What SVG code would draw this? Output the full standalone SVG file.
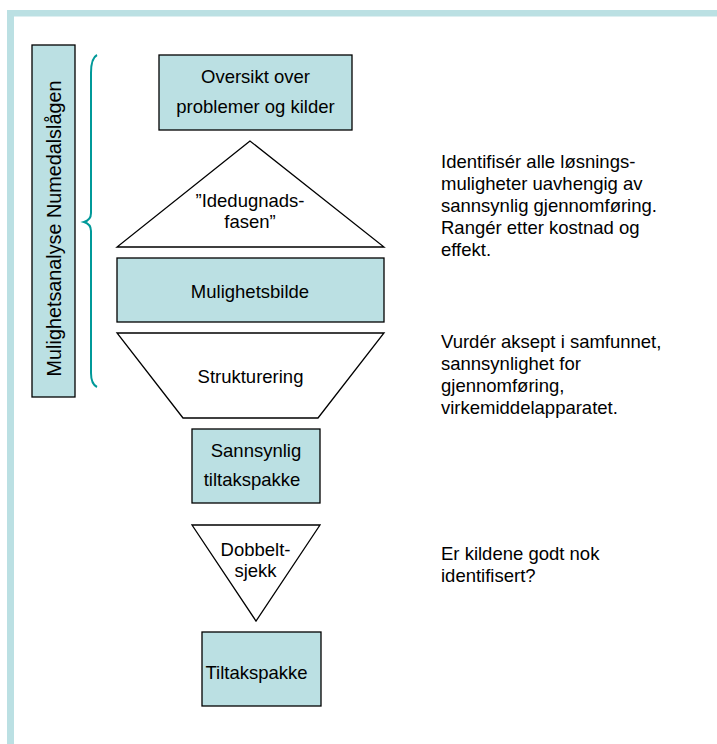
<svg xmlns="http://www.w3.org/2000/svg" width="717" height="744" viewBox="0 0 717 744">
<style>
.box{fill:#BBE0E3;stroke:#000;stroke-width:1.3}
.shape{fill:#fff;stroke:#000;stroke-width:1.3}
text{font-family:"Liberation Sans",Arial,sans-serif;font-size:18.5px;fill:#000}
.c{text-anchor:middle}
.frame{fill:#BBE0E3}
.vert{font-size:19.8px}
</style>
<rect width="717" height="744" fill="#fff"/>
<g id="frame">
<rect class="frame" x="7" y="10" width="710" height="6.5"/>
<rect class="frame" x="7" y="10" width="7" height="734"/>
</g>
<g id="side-label">
<rect class="box" x="32" y="45" width="43" height="352"/>
<text class="c vert" x="61" y="228.5" transform="rotate(-90 61 228.5)">Mulighetsanalyse Numedalslågen</text>
</g>
<g id="brace">
<path d="M97,55 Q91,58 91,73 L91,213 Q91,220 84,222 Q91,224 91,231 L91,373 Q91,384 97,387" fill="none" stroke="#009999" stroke-width="2"/>
</g>
<g id="connectors"></g>
<g id="oversikt">
<rect class="box" x="159" y="55" width="193" height="75"/>
<text class="c" x="255.5" y="83">Oversikt over</text>
<text class="c" x="255.5" y="112.5">problemer og kilder</text>
</g>
<g id="idedugnad">
<polygon class="shape" points="250,141 117,247 384,247"/>
<text class="c" x="250" y="207.3">”Idedugnads-</text>
<text class="c" x="250" y="227.7">fasen”</text>
</g>
<g id="mulighetsbilde">
<rect class="box" x="117" y="258" width="267" height="64"/>
<text class="c" x="250" y="298.3">Mulighetsbilde</text>
</g>
<g id="strukturering">
<polygon class="shape" points="117,333 384,333 318,418 183,418"/>
<text class="c" x="250.5" y="382.7">Strukturering</text>
</g>
<g id="sannsynlig">
<rect class="box" x="192" y="429" width="128" height="74"/>
<text class="c" x="256" y="456.7">Sannsynlig</text>
<text class="c" x="252" y="486">tiltakspakke</text>
</g>
<g id="dobbeltsjekk">
<polygon class="shape" points="192,525 320,525 256,621"/>
<text class="c" x="255.5" y="556">Dobbelt-</text>
<text class="c" x="255.5" y="577">sjekk</text>
</g>
<g id="tiltakspakke">
<rect class="box" x="202" y="632" width="119" height="74"/>
<text class="c" x="256.5" y="679.3">Tiltakspakke</text>
</g>
<g id="notes">
<text x="441" y="168">Identifisér alle løsnings-</text>
<text x="441" y="190">muligheter uavhengig av</text>
<text x="441" y="212">sannsynlig gjennomføring.</text>
<text x="441" y="234">Rangér etter kostnad og</text>
<text x="441" y="256">effekt.</text>
<text x="441" y="348">Vurdér aksept i samfunnet,</text>
<text x="441" y="370">sannsynlighet for</text>
<text x="441" y="392">gjennomføring,</text>
<text x="441" y="414">virkemiddelapparatet.</text>
<text x="441" y="560">Er kildene godt nok</text>
<text x="441" y="582">identifisert?</text>
</g>
</svg>
